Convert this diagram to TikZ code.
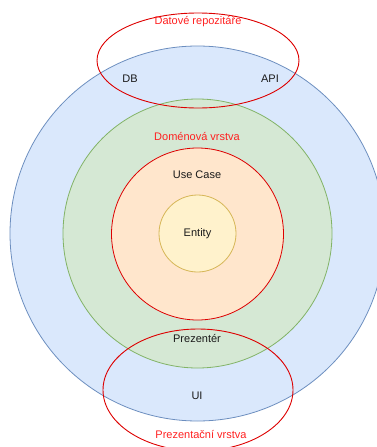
\documentclass[tikz,border=0pt]{standalone}
\usepackage{fontspec}
\setmainfont{Liberation Sans}
\definecolor{layerblue}{HTML}{DAE8FC}
\definecolor{layerbluedraw}{HTML}{6C8EBF}
\definecolor{layergreen}{HTML}{D5E8D4}
\definecolor{layergreendraw}{HTML}{82B366}
\definecolor{layerorange}{HTML}{FFE6CC}
\definecolor{layeryellow}{HTML}{FFF2CC}
\definecolor{layeryellowdraw}{HTML}{D6B656}
\definecolor{groupred}{HTML}{DD0000}
\definecolor{labelred}{HTML}{FF2020}
\definecolor{labeltext}{HTML}{1A1A1A}
\begin{document}
\begin{tikzpicture}[x=1pt,y=-1pt,
  ring/.style={circle, draw, line width=0.8pt, inner sep=0pt},
  group/.style={ellipse, draw=groupred, line width=0.9pt, inner sep=0pt},
  txt/.style={font=\fontsize{11}{13}\selectfont, text=labeltext, inner sep=0pt},
  redtxt/.style={txt, text=labelred}]
\useasboundingbox (0,0) rectangle (377,447);
\clip (0,0) rectangle (377,447);
% concentric layers
\node[ring, fill=layerblue, draw=layerbluedraw, minimum size=375pt] (outer) at (197.5,233.5) {};
\node[ring, fill=layergreen, draw=layergreendraw, minimum size=269pt] (domain) at (197.5,233.5) {};
\node[ring, fill=layerorange, draw=groupred, minimum size=172pt] (usecase) at (197.5,234) {};
\node[ring, fill=layeryellow, draw=layeryellowdraw, minimum size=77pt] (entity) at (197.5,233.5) {};
% grouping ellipses
\draw[groupred, line width=0.9pt] (198,60.5) ellipse [x radius=101, y radius=47.5];
\draw[groupred, line width=0.9pt] (198,390) ellipse [x radius=95, y radius=61];
% labels
\node[redtxt] (repo) at (198,22) {Datové repozitáře};
\node[txt] (db) at (130,79) {DB};
\node[txt] (api) at (270,79) {API};
\node[redtxt] (dom) at (197,137) {Doménová vrstva};
\node[txt] (uc) at (197,175) {Use Case};
\node[txt] (ent) at (197.5,233.5) {Entity};
\node[txt] (pres) at (197,338) {Prezentér};
\node[txt] (ui) at (197,396) {UI};
\node[redtxt] (presl) at (201,434) {Prezentační vrstva};
\end{tikzpicture}
\end{document}
